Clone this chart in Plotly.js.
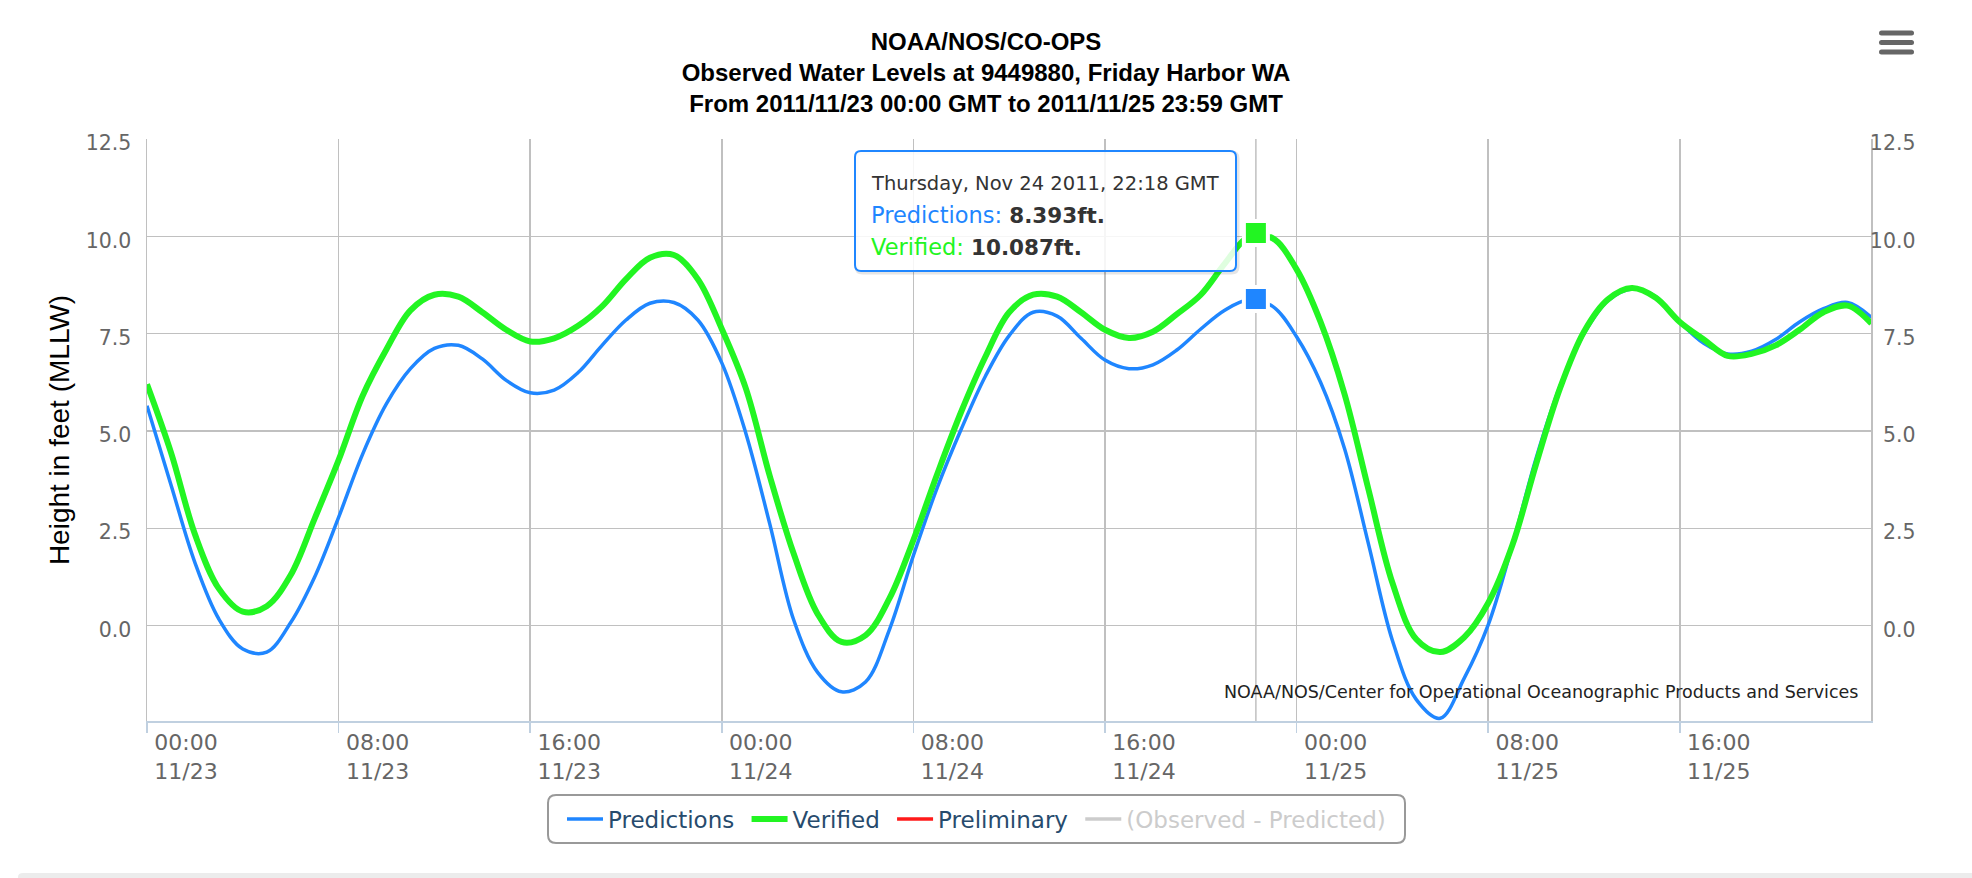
<!DOCTYPE html>
<html><head><meta charset="utf-8">
<script src="https://cdn.plot.ly/plotly-3.0.1.min.js"></script>
<style>html,body{margin:0;padding:0;background:#fff;}#chart{width:1972px;height:878px;}</style>
</head><body><div id="chart"></div>
<script>
// ---------------- data ----------------
const seriesNames = ['Predictions', 'Verified', 'Preliminary', '(Observed - Predicted)'];
const seriesColors = ['#1f86ff', '#22f522', '#ff1a1a', '#cccccc'];
const startTime = '2011-11-23 00:00';
const endTime = '2011-11-25 23:59';
const stepMs = 3600000; // hourly readings from 2011-11-23 00:00 GMT
const predictions = [
  5.65, 3.62, 1.62, 0.17, -0.6, -0.68, 0.08, 1.25, 2.78, 4.4, 5.7, 6.6,
  7.12, 7.2, 6.85, 6.3, 5.98, 6.05, 6.5, 7.2, 7.85, 8.28, 8.3, 7.85,
  6.75, 4.95, 2.62, 0.15, -1.2, -1.7, -1.45, -0.1, 1.8, 3.55, 5.05, 6.4,
  7.45, 8.05, 7.95, 7.38, 6.82, 6.6, 6.7, 7.08, 7.62, 8.1, 8.37, 8.2,
  7.42, 6.25, 4.55, 2.1, -0.38, -1.9, -2.38, -1.35, 0.02, 2.05, 4.3, 6.15,
  7.5, 8.35, 8.65, 8.45, 7.8, 7.25, 6.98, 7.05, 7.35, 7.8, 8.14, 8.3, 7.92
];
const verified = [
  6.2, 4.45, 2.35, 0.95, 0.36, 0.5, 1.3, 2.75, 4.25, 5.9, 7.1, 8.1,
  8.5, 8.45, 8.05, 7.6, 7.3, 7.38, 7.7, 8.2, 8.9, 9.45, 9.52, 8.9,
  7.62, 6.1, 3.85, 1.85, 0.3, -0.42, -0.25, 0.7, 2.2, 3.9, 5.5, 6.9,
  8.05, 8.5, 8.45, 8.05, 7.6, 7.39, 7.55, 8.0, 8.5, 9.3, 9.98, 9.95,
  9.15, 7.8, 5.95, 3.5, 1.1, -0.35, -0.68, -0.3, 0.58, 2.05, 4.15, 6.1,
  7.55, 8.38, 8.67, 8.42, 7.8, 7.35, 6.93, 6.98, 7.2, 7.6, 8.05, 8.22, 7.76
];
const hoverTime = '2011-11-24 22:18';
const hoverHeader = 'Thursday, Nov 24 2011, 22:18 GMT';
const hoverPredicted = 8.393;
const hoverVerified = 10.087;
const yRange = [-2.45, 12.5];
const titleLines = ['NOAA/NOS/CO-OPS', 'Observed Water Levels at 9449880, Friday Harbor WA',
  'From 2011/11/23 00:00 GMT to 2011/11/25 23:59 GMT'];
const yTitle = 'Height in feet (MLLW)';
const creditText = 'NOAA/NOS/Center for Operational Oceanographic Products and Services';

// ---------------- helpers ----------------
const W = 1972, H = 878;
const ML = 147, MR = 50, MT = 139, MB = 157;
const PW = W - ML - MR, PH = H - MT - MB;
const plotRight = 1871;
const px = v => (v - ML) / PW;
const py = v => (H - MB - v) / PH;
function roundRect(hw, hh, r) {
  return `M${-hw + r},${-hh} L${hw - r},${-hh} Q${hw},${-hh} ${hw},${-hh + r} L${hw},${hh - r} Q${hw},${hh} ${hw - r},${hh} ` +
         `L${-hw + r},${hh} Q${-hw},${hh} ${-hw},${hh - r} L${-hw},${-hh + r} Q${-hw},${-hh} ${-hw + r},${-hh} Z`;
}
const tickFontY = {family: 'DejaVu Sans, Verdana, sans-serif', size: 20.5, color: '#666666'};
const tickFontX = {family: 'DejaVu Sans, Verdana, sans-serif', size: 22, color: '#666666'};

// ---------------- traces ----------------
const traces = [
  {type: 'scatter', mode: 'lines', name: seriesNames[0] + '\u00a0', x0: startTime, dx: stepMs, y: predictions,
   line: {color: seriesColors[0], width: 3.5, shape: 'spline', smoothing: 1}},
  {type: 'scatter', mode: 'lines', name: seriesNames[1] + '\u00a0', x0: startTime, dx: stepMs, y: verified,
   line: {color: seriesColors[1], width: 6, shape: 'spline', smoothing: 1}},
  {type: 'scatter', mode: 'lines', name: seriesNames[2] + '\u00a0', x: [null], y: [null], xaxis: 'x2', yaxis: 'y2',
   line: {color: seriesColors[2], width: 3.5}},
  {type: 'scatter', mode: 'lines', name: `<span style="color:${seriesColors[3]}">${seriesNames[3]}</span>`,
   x: [null], y: [null], xaxis: 'x2', yaxis: 'y2', line: {color: seriesColors[3], width: 3.5}},
  {type: 'scatter', mode: 'markers', x: [hoverTime], y: [hoverPredicted], showlegend: false, cliponaxis: false,
   marker: {symbol: 'square', size: 24, color: seriesColors[0], line: {color: '#ffffff', width: 4}}},
  {type: 'scatter', mode: 'markers', x: [hoverTime], y: [hoverVerified], showlegend: false, cliponaxis: false,
   marker: {symbol: 'square', size: 24, color: seriesColors[1], line: {color: '#ffffff', width: 4}}}
];

// ---------------- shapes & annotations ----------------
const shapes = [
  {type: 'line', xref: 'x', yref: 'paper', x0: hoverTime, x1: hoverTime, y0: 0, y1: 1,
   line: {color: '#C0C0C0', width: 1.5}, layer: 'between'},
  {type: 'path', xref: 'paper', yref: 'paper', xsizemode: 'pixel', ysizemode: 'pixel',
   xanchor: px(1047), yanchor: py(212.5), path: roundRect(190.5, 60, 6),
   line: {color: 'rgba(0,0,0,0.10)', width: 4}, fillcolor: 'rgba(0,0,0,0)', layer: 'above'},
  {type: 'path', xref: 'paper', yref: 'paper', xsizemode: 'pixel', ysizemode: 'pixel',
   xanchor: px(1045.5), yanchor: py(211), path: roundRect(190.5, 60, 6),
   line: {color: seriesColors[0], width: 2}, fillcolor: 'rgba(255,255,255,0.86)', layer: 'above'},
  {type: 'path', xref: 'paper', yref: 'paper', xsizemode: 'pixel', ysizemode: 'pixel',
   xanchor: px(976.5), yanchor: py(819), path: roundRect(428.5, 24, 8),
   line: {color: '#999999', width: 2}, fillcolor: 'rgba(0,0,0,0)', layer: 'above'},
  ...[33, 42.5, 52].map(cy => ({type: 'path', xref: 'paper', yref: 'paper', xsizemode: 'pixel', ysizemode: 'pixel',
   xanchor: px(1896.5), yanchor: py(cy), path: roundRect(17.5, 2.6, 2.5),
   line: {width: 0}, fillcolor: '#666666', layer: 'above'})),
  {type: 'path', xref: 'paper', yref: 'paper', xsizemode: 'pixel', ysizemode: 'pixel',
   xanchor: px(18), yanchor: py(878), path: 'M0,-4 L0,1 Q0,5 5,5 L1960,5 L1960,-4 Z',
   line: {width: 0}, fillcolor: '#ececec', layer: 'above'}
];

const annotations = [
  {xref: 'paper', yref: 'paper', x: px(869), y: py(183.3), xanchor: 'left', yanchor: 'middle', showarrow: false,
   text: hoverHeader, font: {family: 'DejaVu Sans, Verdana, sans-serif', size: 19.5, color: '#333333'}},
  {xref: 'paper', yref: 'paper', x: px(869), y: py(215), xanchor: 'left', yanchor: 'middle', showarrow: false,
   text: `<span style="color:${seriesColors[0]}">${seriesNames[0]}:</span> <b><span style="font-size:21.5px">${hoverPredicted}ft.</span></b>`,
   font: {family: 'DejaVu Sans, Verdana, sans-serif', size: 22.5, color: '#333333'}},
  {xref: 'paper', yref: 'paper', x: px(869), y: py(246.7), xanchor: 'left', yanchor: 'middle', showarrow: false,
   text: `<span style="color:${seriesColors[1]}">${seriesNames[1]}:</span> <b><span style="font-size:21.5px">${hoverVerified}ft.</span></b>`,
   font: {family: 'DejaVu Sans, Verdana, sans-serif', size: 22.5, color: '#333333'}},
  {xref: 'paper', yref: 'paper', x: px(1860), y: py(691.7), xanchor: 'right', yanchor: 'middle', showarrow: false,
   text: creditText, font: {family: 'DejaVu Sans, Verdana, sans-serif', size: 17.5, color: '#222222'}}
];

const dateTicks = {type: 'date', range: [startTime, endTime], tickmode: 'linear', tick0: startTime,
  dtick: 8 * 3600000, tickformat: '%H:%M<br>%m/%d'};

const layout = {
  width: W, height: H,
  margin: {l: ML, r: MR, t: MT, b: MB, autoexpand: false},
  paper_bgcolor: '#ffffff', plot_bgcolor: '#ffffff',
  showlegend: true,
  title: {text: titleLines.join('<br>'), x: 0.5, xref: 'container', xanchor: 'center',
          y: 1 - 50 / H, yref: 'container', yanchor: 'top',
          font: {family: 'Liberation Sans, Arial, sans-serif', size: 24, color: '#000000', weight: 'bold'}},
  xaxis: Object.assign({}, dateTicks, {domain: [0, (plotRight - ML) / PW],
          showgrid: true, gridcolor: '#C0C0C0', gridwidth: 1.5, zeroline: false,
          showline: true, linecolor: '#C0D0E0', linewidth: 2,
          ticks: 'outside', ticklen: 10, tickwidth: 1.5, tickcolor: '#C0D0E0', showticklabels: false}),
  xaxis2: Object.assign({}, dateTicks, {overlaying: 'x', anchor: 'y', side: 'bottom',
          showgrid: false, zeroline: false, showline: false, ticks: '',
          tickfont: tickFontX, ticklabelshift: 39, ticklabelstandoff: 6}),
  yaxis: {range: yRange, tickmode: 'linear', tick0: 0, dtick: 2.5, tickformat: '.1f',
          showgrid: true, gridcolor: '#C0C0C0', gridwidth: 1.5, zeroline: false,
          showline: true, linecolor: '#C0C0C0', linewidth: 1.5, mirror: true, ticks: '',
          tickfont: tickFontY, ticklabelstandoff: 10, ticklabelshift: 4,
          title: {text: yTitle, standoff: 8, font: {family: 'Liberation Sans, Arial, sans-serif', size: 28, color: '#000000'}}},
  yaxis2: {overlaying: 'y', side: 'left', anchor: 'free', position: px(1915.5), range: yRange,
           tickmode: 'linear', tick0: 0, dtick: 2.5, tickformat: '.1f',
           showgrid: false, zeroline: false, showline: false, ticks: '',
           tickfont: tickFontY, ticklabelshift: 4},
  legend: {orientation: 'h', x: px(976.5), xanchor: 'center', y: py(819), yanchor: 'middle',
           font: {family: 'DejaVu Sans, Verdana, sans-serif', size: 23, color: '#274b6d'},
           bgcolor: 'rgba(0,0,0,0)', borderwidth: 0, itemwidth: 36, traceorder: 'normal'},
  shapes: shapes,
  annotations: annotations,
  hovermode: false
};

Plotly.newPlot('chart', traces, layout, {staticPlot: true, displayModeBar: false});
</script>
</body></html>
